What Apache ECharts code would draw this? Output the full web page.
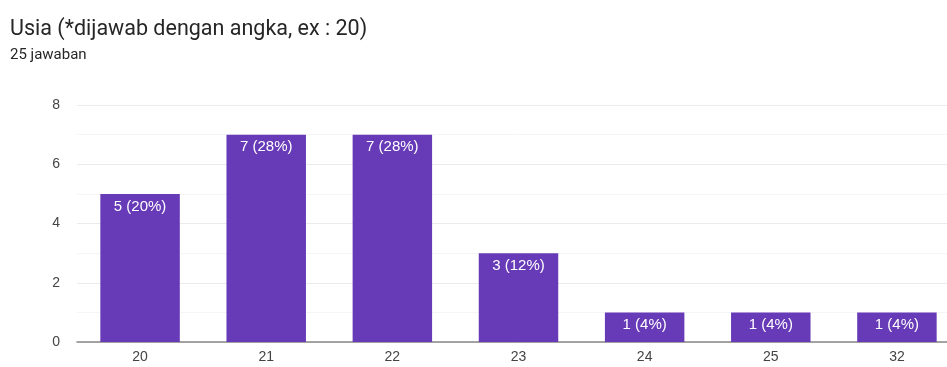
<!DOCTYPE html>
<html>
<head>
<meta charset="utf-8">
<script src="https://cdn.jsdelivr.net/npm/echarts@6/dist/echarts.min.js"></script>
<style>
  html, body { margin: 0; padding: 0; background: #fff; }
  #chart { width: 947px; height: 367px; }
</style>
</head>
<body>
<div id="chart"></div>
<script>
const ages = ['20', '21', '22', '23', '24', '25', '32']
const counts = [5, 7, 7, 3, 1, 1, 1]
const total = 25
const yTicks = [0, 2, 4, 6, 8]

var myChart = echarts.init(document.getElementById('chart'))
const option = {
  animation: false,
  title: [
    {
      text: 'Usia (*dijawab dengan angka, ex : 20)',
      left: 10,
      top: 19,
      padding: 0,
      textStyle: {
        color: '#262626',
        fontSize: 21.5,
        fontWeight: 'normal',
        fontFamily: 'Roboto'
      }
    },
    {
      // subtitle
      text: total + ' jawaban',
      left: 10,
      top: 48,
      padding: 0,
      textStyle: {
        color: '#262626',
        fontSize: 15,
        fontWeight: 'normal',
        fontFamily: 'Roboto'
      }
    }
  ],
  grid: {
    left: 77,
    width: 883,
    top: 105,
    bottom: 25,
    outerBoundsMode: 'none'
  },
  xAxis: {
    type: 'category',
    data: ages,
    axisTick: { show: false },
    axisLine: { lineStyle: { color: '#888', width: 1.5 } },
    axisLabel: {
      color: '#444',
      fontSize: 14,
      fontFamily: 'Arial',
      margin: 8
    }
  },
  yAxis: {
    type: 'value',
    min: yTicks[0],
    max: yTicks[yTicks.length - 1],
    interval: 2,
    axisLine: { show: false },
    axisTick: { show: false },
    axisLabel: {
      color: '#444',
      fontSize: 14,
      fontFamily: 'Arial',
      margin: 17
    },
    splitLine: { lineStyle: { color: '#ebebeb' } },
    minorTick: { show: false, splitNumber: 2 },
    minorSplitLine: { show: true, lineStyle: { color: '#f5f5f5' } }
  },
  series: [
    {
      type: 'bar',
      data: counts,
      barWidth: '63%',
      itemStyle: { color: '#673ab7' },
      label: {
        show: true,
        position: 'insideTop',
        distance: 5,
        color: '#fff',
        fontSize: 15,
        fontFamily: 'Arial',
        formatter: function(p) {
          return p.value + ' (' + Math.round(p.value / total * 100) + '%)'
        }
      }
    }
  ]
}
myChart.setOption(option)
</script>
</body>
</html>
